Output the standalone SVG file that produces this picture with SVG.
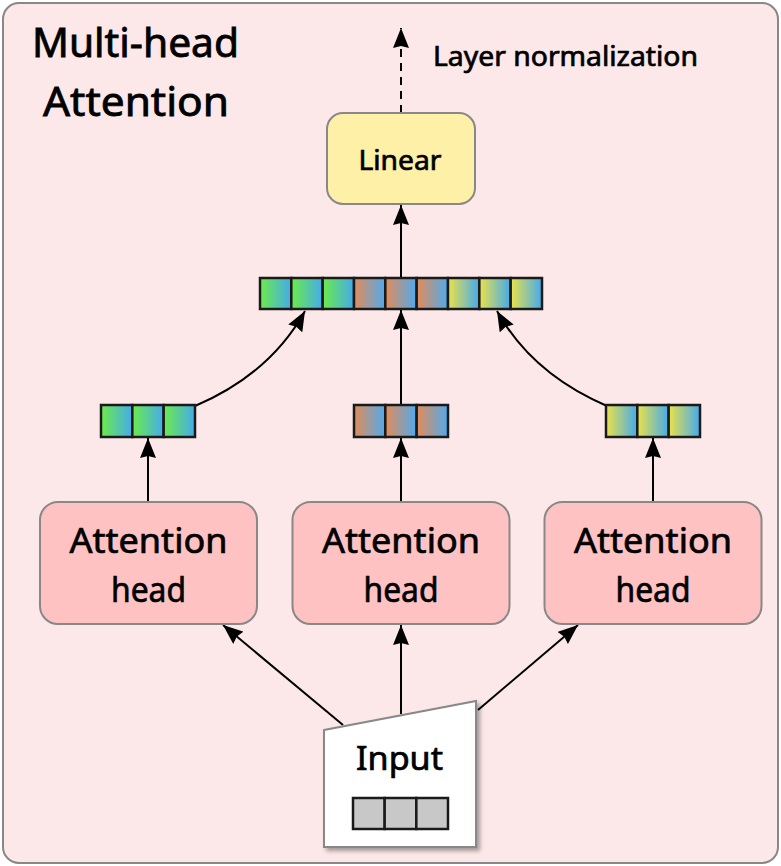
<svg xmlns="http://www.w3.org/2000/svg" width="781" height="866" viewBox="0 0 781 866">
<defs>
<style>
.lbl{font-family:"Noto Sans","Liberation Sans",sans-serif;fill:#000;text-anchor:middle;stroke:#000;stroke-width:0.7}
.title{font-family:"Noto Sans","Liberation Sans",sans-serif;fill:#000;font-size:40px;stroke:#000;stroke-width:0.8}
.box{stroke:#888;stroke-width:2}
.cell{stroke:#1a1a1a;stroke-width:2.5}
.edge{fill:none;stroke:#000;stroke-width:2}
</style>
<linearGradient id="gG" x1="0" y1="0" x2="1" y2="0"><stop offset="0" stop-color="#6cec48"/><stop offset="1" stop-color="#44aaee"/></linearGradient>
<linearGradient id="gO" x1="0" y1="0" x2="1" y2="0"><stop offset="0" stop-color="#e48c58"/><stop offset="1" stop-color="#50aaee"/></linearGradient>
<linearGradient id="gY" x1="0" y1="0" x2="1" y2="0"><stop offset="0" stop-color="#ece248"/><stop offset="1" stop-color="#44aaee"/></linearGradient>
<marker id="arr" markerUnits="userSpaceOnUse" viewBox="0 0 20 16" markerWidth="20" markerHeight="16" refX="20" refY="8" orient="auto">
<path d="M0,0 L20,8 L0,16 L2,8 z" fill="#000"/>
</marker>
<filter id="sh" x="-10%" y="-10%" width="130%" height="130%">
<feDropShadow dx="3" dy="3" stdDeviation="2" flood-color="#000" flood-opacity="0.35"/>
</filter>
</defs>

<g id="container">
<rect x="3" y="3" width="775" height="860" rx="16" fill="#fce8e8" stroke="#888" stroke-width="2"/>
<text class="title" x="32" y="57" textLength="207" lengthAdjust="spacingAndGlyphs">Multi-head</text>
<text class="title" x="43" y="116" textLength="186" lengthAdjust="spacingAndGlyphs">Attention</text>
</g>

<g id="connectors">
<path class="edge" d="M401,113 L401,28" stroke-dasharray="8 6" marker-end="url(#arr)"/>
<path class="edge" d="M401,278 L401,205" marker-end="url(#arr)"/>
<path class="edge" d="M401,405 L401,310" marker-end="url(#arr)"/>
<path class="edge" d="M195,406 Q270,374 305,311" marker-end="url(#arr)"/>
<path class="edge" d="M607,406 Q532,374 497,311" marker-end="url(#arr)"/>
<path class="edge" d="M148,502 L148,438" marker-end="url(#arr)"/>
<path class="edge" d="M401,502 L401,438" marker-end="url(#arr)"/>
<path class="edge" d="M653,502 L653,438" marker-end="url(#arr)"/>
<path class="edge" d="M343,725 L223,625" marker-end="url(#arr)"/>
<path class="edge" d="M401,714 L401,625" marker-end="url(#arr)"/>
<path class="edge" d="M478,710 L578,625" marker-end="url(#arr)"/>
</g>

<g id="layer-norm-label">
<text class="lbl" x="565.5" y="66" font-size="27" textLength="265" lengthAdjust="spacingAndGlyphs">Layer normalization</text>
</g>

<g id="linear">
<rect class="box" x="327" y="113" width="148" height="91" rx="16" fill="#fff0a8"/>
<text class="lbl" x="400" y="170" font-size="27" textLength="83" lengthAdjust="spacingAndGlyphs">Linear</text>
</g>

<g id="concat">
<rect class="cell" x="260" y="278" width="31.33" height="31" fill="url(#gG)"/>
<rect class="cell" x="291.33" y="278" width="31.33" height="31" fill="url(#gG)"/>
<rect class="cell" x="322.67" y="278" width="31.33" height="31" fill="url(#gG)"/>
<rect class="cell" x="354" y="278" width="31.33" height="31" fill="url(#gO)"/>
<rect class="cell" x="385.33" y="278" width="31.33" height="31" fill="url(#gO)"/>
<rect class="cell" x="416.67" y="278" width="31.33" height="31" fill="url(#gO)"/>
<rect class="cell" x="448" y="278" width="31.33" height="31" fill="url(#gY)"/>
<rect class="cell" x="479.33" y="278" width="31.33" height="31" fill="url(#gY)"/>
<rect class="cell" x="510.67" y="278" width="31.33" height="31" fill="url(#gY)"/>
</g>

<g id="out-1">
<rect class="cell" x="101" y="405" width="31.33" height="32" fill="url(#gG)"/>
<rect class="cell" x="132.33" y="405" width="31.33" height="32" fill="url(#gG)"/>
<rect class="cell" x="163.67" y="405" width="31.33" height="32" fill="url(#gG)"/>
</g>
<g id="out-2">
<rect class="cell" x="354" y="405" width="31.33" height="32" fill="url(#gO)"/>
<rect class="cell" x="385.33" y="405" width="31.33" height="32" fill="url(#gO)"/>
<rect class="cell" x="416.67" y="405" width="31.33" height="32" fill="url(#gO)"/>
</g>
<g id="out-3">
<rect class="cell" x="606" y="405" width="31.33" height="32" fill="url(#gY)"/>
<rect class="cell" x="637.33" y="405" width="31.33" height="32" fill="url(#gY)"/>
<rect class="cell" x="668.67" y="405" width="31.33" height="32" fill="url(#gY)"/>
</g>

<g id="head-1">
<rect class="box" x="40" y="502" width="217" height="122" rx="18" fill="#ffc2c2"/>
<text class="lbl" x="148.5" y="553" font-size="35" textLength="158" lengthAdjust="spacingAndGlyphs">Attention</text>
<text class="lbl" x="148.5" y="602" font-size="35" textLength="75" lengthAdjust="spacingAndGlyphs">head</text>
</g>
<g id="head-2">
<rect class="box" x="292.5" y="502" width="217" height="122" rx="18" fill="#ffc2c2"/>
<text class="lbl" x="401" y="553" font-size="35" textLength="158" lengthAdjust="spacingAndGlyphs">Attention</text>
<text class="lbl" x="401" y="602" font-size="35" textLength="75" lengthAdjust="spacingAndGlyphs">head</text>
</g>
<g id="head-3">
<rect class="box" x="544.5" y="502" width="217" height="122" rx="18" fill="#ffc2c2"/>
<text class="lbl" x="653" y="553" font-size="35" textLength="158" lengthAdjust="spacingAndGlyphs">Attention</text>
<text class="lbl" x="653" y="602" font-size="35" textLength="75" lengthAdjust="spacingAndGlyphs">head</text>
</g>

<g id="input">
<path d="M324,730 L476,701 L476,847 L324,847 z" fill="#fff" stroke="#888" stroke-width="2" filter="url(#sh)"/>
<text class="lbl" x="399.5" y="770" font-size="32" textLength="87" lengthAdjust="spacingAndGlyphs">Input</text>
<rect class="cell" x="353" y="798" width="31.67" height="31" fill="#c8c8c8"/>
<rect class="cell" x="384.67" y="798" width="31.67" height="31" fill="#c8c8c8"/>
<rect class="cell" x="416.33" y="798" width="31.67" height="31" fill="#c8c8c8"/>
</g>
</svg>
